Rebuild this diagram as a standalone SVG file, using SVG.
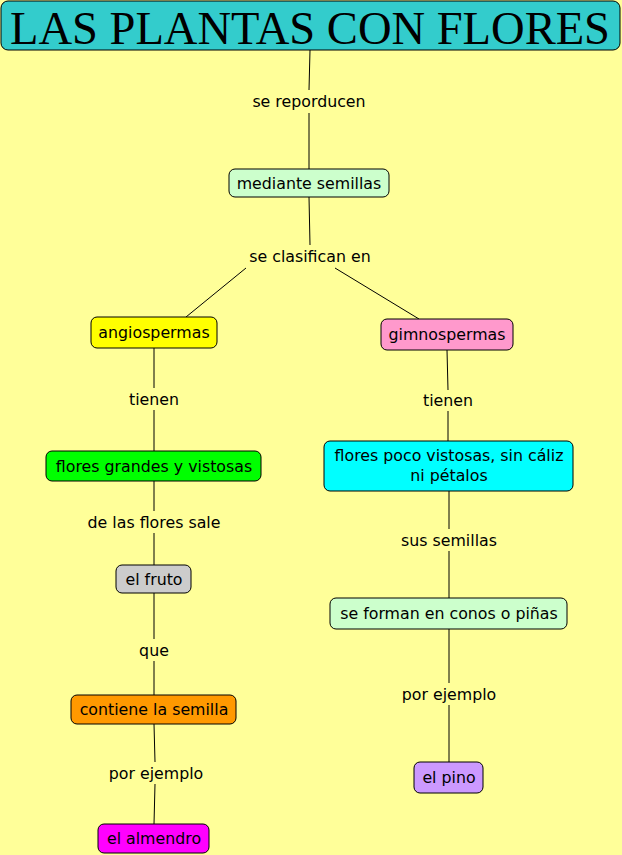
<svg xmlns="http://www.w3.org/2000/svg" width="622" height="855" viewBox="0 0 622 855">
<style>
.n{stroke:#000;stroke-width:1}
.t{font-family:"DejaVu Sans","Liberation Sans",sans-serif;font-size:15.8px;fill:#000;text-anchor:middle}
.c line{stroke:#000;stroke-width:1}
</style>
<rect x="0" y="0" width="622" height="855" fill="#FFFF99"/>
<g class="c" id="connectors">
<line x1="310" y1="50" x2="309" y2="90"/>
<line x1="309" y1="113" x2="309" y2="169"/>
<line x1="309" y1="197" x2="310" y2="245"/>
<line x1="246" y1="268" x2="186" y2="317"/>
<line x1="335" y1="268" x2="419" y2="319"/>
<line x1="154" y1="348" x2="154" y2="388"/>
<line x1="154" y1="410" x2="154" y2="451"/>
<line x1="447" y1="350" x2="448" y2="390"/>
<line x1="448" y1="411" x2="448" y2="441"/>
<line x1="154" y1="481" x2="154" y2="511"/>
<line x1="154" y1="533" x2="154" y2="565"/>
<line x1="449" y1="491" x2="449" y2="529"/>
<line x1="449" y1="551" x2="449" y2="598"/>
<line x1="154" y1="593" x2="154" y2="639"/>
<line x1="154" y1="661" x2="154" y2="695"/>
<line x1="449" y1="629" x2="449" y2="683"/>
<line x1="449" y1="705" x2="449" y2="762"/>
<line x1="154" y1="724" x2="155" y2="762"/>
<line x1="155" y1="784" x2="154" y2="824"/>
</g>
<g id="labels">
<text class="t" x="309" y="107">se reporducen</text>
<text class="t" x="310" y="262">se clasifican en</text>
<text class="t" x="154" y="405">tienen</text>
<text class="t" x="448" y="406">tienen</text>
<text class="t" x="154" y="528">de las flores sale</text>
<text class="t" x="449" y="546">sus semillas</text>
<text class="t" x="154" y="656">que</text>
<text class="t" x="449" y="700">por ejemplo</text>
<text class="t" x="156" y="779">por ejemplo</text>
</g>
<g id="title">
<rect class="n" x="1" y="1" width="619" height="49" rx="7" fill="#33CCCC"/>
<text x="310" y="44" font-family="'Liberation Serif',serif" font-size="47" text-anchor="middle" textLength="600" lengthAdjust="spacingAndGlyphs">LAS PLANTAS CON FLORES</text>
</g>
<g id="mediante">
<rect class="n" x="229" y="169" width="160" height="28" rx="6" fill="#CCFFCC"/>
<text class="t" x="309" y="189">mediante semillas</text>
</g>
<g id="angiospermas">
<rect class="n" x="91" y="317" width="126" height="31" rx="6" fill="#FFFF00"/>
<text class="t" x="154" y="338">angiospermas</text>
</g>
<g id="gimnospermas">
<rect class="n" x="381" y="319" width="132" height="31" rx="6" fill="#FF99CC"/>
<text class="t" x="447" y="340">gimnospermas</text>
</g>
<g id="flores-grandes">
<rect class="n" x="46" y="451" width="215" height="30" rx="6" fill="#00FF00"/>
<text class="t" x="154" y="472">flores grandes y vistosas</text>
</g>
<g id="flores-poco">
<rect class="n" x="324" y="441" width="249" height="50" rx="6" fill="#00FFFF"/>
<text class="t" x="449" y="461">flores poco vistosas, sin cáliz</text>
<text class="t" x="449" y="481">ni pétalos</text>
</g>
<g id="fruto">
<rect class="n" x="116" y="565" width="75" height="28" rx="6" fill="#CCCCCC"/>
<text class="t" x="154" y="585">el fruto</text>
</g>
<g id="conos">
<rect class="n" x="330" y="598" width="237" height="31" rx="6" fill="#CCFFCC"/>
<text class="t" x="449" y="619">se forman en conos o piñas</text>
</g>
<g id="contiene">
<rect class="n" x="71" y="695" width="165" height="29" rx="6" fill="#FF9900"/>
<text class="t" x="154" y="715">contiene la semilla</text>
</g>
<g id="pino">
<rect class="n" x="414" y="762" width="69" height="31" rx="6" fill="#CC99FF"/>
<text class="t" x="449" y="783">el pino</text>
</g>
<g id="almendro">
<rect class="n" x="98" y="824" width="111" height="29" rx="6" fill="#FF00FF"/>
<text class="t" x="154" y="844">el almendro</text>
</g>
</svg>
